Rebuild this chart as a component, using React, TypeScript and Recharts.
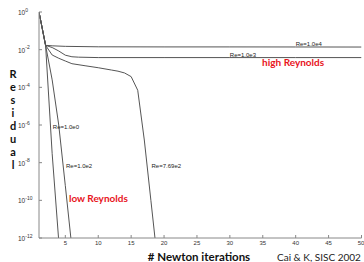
import React from "react";
import { LineChart, Line, XAxis, YAxis, ReferenceDot } from "recharts";

// Newton iterations vs residual, Cai & K (SISC 2002)
const xTicks = [5, 10, 15, 20, 25, 30, 35, 40, 45, 50];
const yTicks = [1, 1e-1, 1e-2, 1e-3, 1e-4, 1e-5, 1e-6, 1e-7, 1e-8, 1e-9, 1e-10, 1e-11, 1e-12];

const re1e0Iter = [1, 2, 3, 4];
const re1e0Res = [1, 1.7e-2, 3e-8, 7e-13];

const re1e2Iter = [1, 2, 3, 4, 5, 6];
const re1e2Res = [1, 1.7e-2, 2.5e-4, 1e-6, 6e-10, 3e-13];

const re769Iter = [1, 2, 3, 4, 5, 6, 8, 10, 12, 13, 14, 15, 16, 17, 18, 19];
const re769Res = [
  1, 1.7e-2, 5.2e-3, 3.5e-3, 2.5e-3, 1.8e-3, 1.4e-3, 1.1e-3, 8.3e-4, 7.2e-4,
  5.8e-4, 3.7e-4, 7e-5, 1.6e-7, 1e-10, 6e-14,
];

const re1e3Iter = [1, 2, 3, 4, 5, 6, 7, 10, 20, 30, 40, 50];
const re1e3Res = [1, 1.7e-2, 1.3e-2, 8.5e-3, 5.1e-3, 4.2e-3, 4e-3, 3.8e-3, 3.8e-3, 3.8e-3, 3.8e-3, 3.8e-3];

const re1e4Iter = [1, 2, 3, 5, 10, 20, 30, 40, 50];
const re1e4Res = [1, 1.7e-2, 1.6e-2, 1.5e-2, 1.42e-2, 1.4e-2, 1.4e-2, 1.39e-2, 1.38e-2];

const toPoints = (iters: number[], res: number[]) =>
  iters.map((x, i) => ({ x, r: res[i] }));

const series = [
  { name: "Re=1.0e0", data: toPoints(re1e0Iter, re1e0Res) },
  { name: "Re=1.0e2", data: toPoints(re1e2Iter, re1e2Res) },
  { name: "Re=7.69e2", data: toPoints(re769Iter, re769Res) },
  { name: "Re=1.0e3", data: toPoints(re1e3Iter, re1e3Res) },
  { name: "Re=1.0e4", data: toPoints(re1e4Iter, re1e4Res) },
];

const sans = "Liberation Sans, Arial, sans-serif";
const bold = "Lato, 'Open Sans', sans-serif";
const axisGray = "#888";

function YTick(props: any) {
  const { y, payload } = props;
  const e = Math.round(Math.log10(payload.value));
  if (e % 2 !== 0) return null;
  return (
    <text x={18} y={y + 3} fontSize={6.5} fill="#333" fontFamily={sans}>
      <tspan>10</tspan>
      <tspan dy={-3.5} fontSize={5}>{e === 0 ? "0" : "-" + Math.abs(e)}</tspan>
    </text>
  );
}

function ResidualLabel() {
  const letters = "Residual".split("");
  return (
    <text fontSize={11} fontWeight={700} fontFamily={bold} fill="#111" textAnchor="middle">
      {letters.map((c, i) => (
        <tspan key={i} x={13} y={78 + i * 13}>
          {c}
        </tspan>
      ))}
    </text>
  );
}

function BottomLabel() {
  return (
    <g>
      <text x={199} y={261} textAnchor="middle" fontSize={11.5} fontWeight={700} fontFamily={bold} fill="#111">
        # Newton iterations
      </text>
      <text x={277} y={261} fontSize={10} fontFamily={bold} fill="#222">
        Cai &amp; K, SISC 2002
      </text>
    </g>
  );
}

const note = (text: string, color = "#222", size = 6, weight = 400, font = sans) =>
  function Note(props: any) {
    const { viewBox } = props;
    return (
      <text x={viewBox.x} y={viewBox.y} fontSize={size} fontWeight={weight} fontFamily={font} fill={color}>
        {text}
      </text>
    );
  };

export default function App() {
  return (
    <div style={{ position: "absolute", left: 0, top: 0, width: 364, height: 262, background: "#fff" }}>
      <LineChart width={364} height={262} margin={{ top: 12, right: 2.5, bottom: 0, left: 0 }}>
        <XAxis
          type="number"
          dataKey="x"
          domain={[1, 50]}
          ticks={xTicks}
          allowDataOverflow
          height={24}
          tickSize={-3}
          tickMargin={6}
          stroke={axisGray}
          tick={{ fontSize: 6, fill: "#333", fontFamily: sans }}
          label={{ content: BottomLabel }}
        />
        <XAxis
          xAxisId="top"
          orientation="top"
          type="number"
          domain={[1, 50]}
          ticks={xTicks}
          allowDataOverflow
          height={0}
          tickSize={-3}
          tick={false}
          stroke={axisGray}
        />
        <YAxis
          scale="log"
          type="number"
          domain={[1e-12, 1]}
          ticks={yTicks}
          allowDataOverflow
          width={39}
          tickSize={-3}
          tickMargin={4}
          stroke={axisGray}
          tick={YTick}
          label={{ content: ResidualLabel }}
        />
        <YAxis
          yAxisId="right"
          orientation="right"
          scale="log"
          type="number"
          domain={[1e-12, 1]}
          ticks={yTicks}
          allowDataOverflow
          width={0}
          tickSize={-3}
          tick={false}
          stroke={axisGray}
        />
        {series.map((s) => (
          <Line
            key={s.name}
            data={s.data}
            dataKey="r"
            type="linear"
            dot={false}
            stroke="#555"
            strokeWidth={1}
            isAnimationActive={false}
          />
        ))}
        <ReferenceDot x={40} y={10 ** -1.78} r={0} stroke="none" label={{ content: note("Re=1.0e4") }} />
        <ReferenceDot x={30} y={10 ** -2.39} r={0} stroke="none" label={{ content: note("Re=1.0e3") }} />
        <ReferenceDot x={3.1} y={10 ** -6.22} r={0} stroke="none" label={{ content: note("Re=1.0e0") }} />
        <ReferenceDot x={5.1} y={10 ** -8.3} r={0} stroke="none" label={{ content: note("Re=1.0e2") }} />
        <ReferenceDot x={18.1} y={10 ** -8.3} r={0} stroke="none" label={{ content: note("Re=7.69e2") }} />
        <ReferenceDot
          x={34.9}
          y={10 ** -2.87}
          r={0}
          stroke="none"
          label={{ content: note("high Reynolds", "#e8141c", 10, 700, bold) }}
        />
        <ReferenceDot
          x={5.55}
          y={10 ** -10.1}
          r={0}
          stroke="none"
          label={{ content: note("low Reynolds", "#e8141c", 10, 700, bold) }}
        />
      </LineChart>
    </div>
  );
}
